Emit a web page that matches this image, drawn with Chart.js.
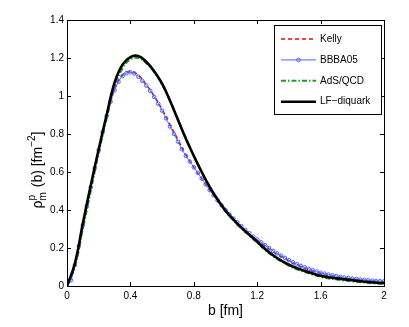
<!DOCTYPE html>
<html>
<head>
<meta charset="utf-8">
<script src="https://cdn.jsdelivr.net/npm/chart.js@4"></script>
<style>
  body { margin: 0; background: #fff; }
  canvas { display: block; }
</style>
</head>
<body>
<canvas id="myChart" width="409" height="327"></canvas>
<script>
// b [fm] 값 (두 가지 간격)
const bCoarse = [0, 0.05, 0.1, 0.15, 0.2, 0.25, 0.3, 0.35, 0.4, 0.45, 0.5, 0.55, 0.6, 0.65, 0.7, 0.75, 0.8, 0.85, 0.9, 0.95,
    1, 1.05, 1.1, 1.15, 1.2, 1.25, 1.3, 1.35, 1.4, 1.45, 1.5, 1.55, 1.6, 1.65, 1.7, 1.75, 1.8, 1.85, 1.9, 1.95, 2];
const bFine = [0, 0.025, 0.05, 0.075, 0.1, 0.125, 0.15, 0.175, 0.2, 0.225, 0.25, 0.275, 0.3, 0.325, 0.35, 0.375, 0.4, 0.425, 0.45, 0.475,
    0.5, 0.525, 0.55, 0.575, 0.6, 0.625, 0.65, 0.675, 0.7, 0.725, 0.75, 0.775, 0.8, 0.825, 0.85, 0.875, 0.9, 0.925, 0.95, 0.975,
    1, 1.025, 1.05, 1.075, 1.1, 1.125, 1.15, 1.175, 1.2, 1.225, 1.25, 1.275, 1.3, 1.325, 1.35, 1.375, 1.4, 1.425, 1.45, 1.475,
    1.5, 1.525, 1.55, 1.575, 1.6, 1.625, 1.65, 1.675, 1.7, 1.725, 1.75, 1.775, 1.8, 1.825, 1.85, 1.875, 1.9, 1.925, 1.95, 1.975, 2];

// 각 모델의 값
const kelly = [0, 0.11, 0.32, 0.52, 0.715, 0.895, 1.035, 1.11, 1.13, 1.11, 1.06, 1.0, 0.93, 0.85, 0.77, 0.69, 0.625, 0.565, 0.505, 0.45,
    0.4, 0.353, 0.312, 0.275, 0.24, 0.21, 0.18, 0.155, 0.13, 0.11, 0.093, 0.078, 0.066, 0.056, 0.048, 0.041, 0.035, 0.03, 0.026, 0.023, 0.02];
const bbba05 = [0, 0.03, 0.11, 0.21, 0.32, 0.42, 0.52, 0.62, 0.715, 0.81, 0.895, 0.97, 1.03, 1.075, 1.105, 1.12, 1.125, 1.118, 1.102, 1.08,
    1.055, 1.027, 0.995, 0.96, 0.923, 0.883, 0.84, 0.8, 0.76, 0.72, 0.685, 0.655, 0.625, 0.595, 0.565, 0.535, 0.505, 0.478, 0.45, 0.425,
    0.4, 0.377, 0.355, 0.335, 0.315, 0.295, 0.278, 0.26, 0.245, 0.23, 0.215, 0.2, 0.185, 0.172, 0.16, 0.148, 0.136, 0.125, 0.115, 0.106,
    0.098, 0.09, 0.083, 0.076, 0.07, 0.065, 0.06, 0.056, 0.052, 0.048, 0.045, 0.042, 0.039, 0.037, 0.034, 0.032, 0.03, 0.028, 0.027, 0.025, 0.024];
const adsqcd = [0, 0.1, 0.3, 0.5, 0.7, 0.88, 1.045, 1.145, 1.193, 1.2, 1.172, 1.125, 1.06, 0.975, 0.875, 0.78, 0.685, 0.6, 0.525, 0.455,
    0.393, 0.345, 0.302, 0.265, 0.228, 0.19, 0.157, 0.13, 0.107, 0.088, 0.073, 0.06, 0.048, 0.04, 0.034, 0.029, 0.024, 0.02, 0.016, 0.013, 0.01];
const lfDiquark = [0, 0.12, 0.33, 0.53, 0.72, 0.9, 1.07, 1.165, 1.205, 1.21, 1.18, 1.13, 1.065, 0.975, 0.875, 0.775, 0.685, 0.6, 0.522, 0.455,
    0.397, 0.35, 0.307, 0.27, 0.233, 0.195, 0.162, 0.135, 0.112, 0.094, 0.079, 0.066, 0.054, 0.046, 0.04, 0.035, 0.03, 0.025, 0.021, 0.017, 0.015];

// 눈금
const xTicks = [0, 0.4, 0.8, 1.2, 1.6, 2];
const yTicks = [0, 0.2, 0.4, 0.6, 0.8, 1, 1.2, 1.4];

const FONT = '"Liberation Sans", Arial, sans-serif';

function pts(xs, ys) {
    return xs.map((x, i) => ({ x: x, y: ys[i] }));
}

// 안쪽 눈금 + 상자 + 축 제목 + 범례
const decorPlugin = {
    id: 'decor',
    afterDraw(chart) {
        const { ctx, chartArea: a, scales } = chart;
        ctx.save();
        ctx.strokeStyle = '#000';
        ctx.lineWidth = 1;
        ctx.strokeRect(a.left + 0.5, a.top + 0.5, a.right - a.left, a.bottom - a.top);
        ctx.beginPath();
        xTicks.forEach(t => {
            const x = Math.round(scales.x.getPixelForValue(t)) + 0.5;
            ctx.moveTo(x, a.bottom); ctx.lineTo(x, a.bottom - 4);
            ctx.moveTo(x, a.top); ctx.lineTo(x, a.top + 4);
        });
        yTicks.forEach(t => {
            const y = Math.round(scales.y.getPixelForValue(t)) + 0.5;
            ctx.moveTo(a.left, y); ctx.lineTo(a.left + 4, y);
            ctx.moveTo(a.right, y); ctx.lineTo(a.right - 4, y);
        });
        ctx.stroke();

        // x 축 제목
        ctx.fillStyle = '#000';
        ctx.font = '14px ' + FONT;
        ctx.textAlign = 'center';
        ctx.textBaseline = 'alphabetic';
        ctx.fillText('b [fm]', (a.left + a.right) / 2, 315);

        // y 축 제목: ρ^p_m (b) [fm^-2]
        ctx.translate(42, 170);
        ctx.rotate(-Math.PI / 2);
        const big = '14px ' + FONT, small = '10px ' + FONT;
        ctx.font = big; const w1 = ctx.measureText('ρ').width;
        ctx.font = small; const wS = Math.max(ctx.measureText('p').width, ctx.measureText('m').width);
        ctx.font = big; const w2 = ctx.measureText(' (b) [fm').width;
        ctx.font = small; const w3 = ctx.measureText('−2').width;
        ctx.font = big; const w4 = ctx.measureText(']').width;
        let x = -(w1 + wS + 1 + w2 + w3 + w4) / 2;
        ctx.textAlign = 'left';
        ctx.font = big; ctx.fillText('ρ', x, 0); x += w1;
        ctx.font = small; ctx.fillText('p', x, -7); ctx.fillText('m', x, 4); x += wS + 1;
        ctx.font = big; ctx.fillText(' (b) [fm', x, 0); x += w2;
        ctx.font = small; ctx.fillText('−2', x, -7); x += w3;
        ctx.font = big; ctx.fillText(']', x, 0);
        ctx.setTransform(1, 0, 0, 1, 0, 0);

        // 범례
        const L = 274, T = 25, R = 381, B = 114;
        ctx.fillStyle = '#fff';
        ctx.fillRect(L, T, R - L, B - T);
        ctx.strokeStyle = '#000';
        ctx.strokeRect(L + 0.5, T + 0.5, R - L, B - T);
        chart.data.datasets.forEach((ds, i) => {
            const y = 39 + i * 20.9;
            ctx.save();
            ctx.strokeStyle = ds.borderColor;
            ctx.lineWidth = ds.borderWidth;
            ctx.setLineDash(ds.borderDash || []);
            ctx.beginPath();
            ctx.moveTo(281, y); ctx.lineTo(316, y);
            ctx.stroke();
            ctx.setLineDash([]);
            if (ds.pointRadius > 0) {
                ctx.beginPath();
                ctx.arc(298.5, y, ds.pointRadius, 0, Math.PI * 2);
                ctx.stroke();
            }
            ctx.restore();
            ctx.fillStyle = '#000';
            ctx.font = '10px ' + FONT;
            ctx.textAlign = 'left';
            ctx.textBaseline = 'middle';
            ctx.fillText(ds.label, 320, y);
        });
        ctx.restore();
    }
};

const ctx = document.getElementById('myChart').getContext('2d');
const chart = new Chart(ctx, {
    type: 'line',
    data: {
        datasets: [{
            label: 'Kelly',
            data: pts(bCoarse, kelly),
            borderColor: '#ff0000',
            borderWidth: 1.5,
            borderDash: [4, 3],
            pointRadius: 0,
            order: 2
        }, {
            label: 'BBBA05',
            data: pts(bFine, bbba05),
            borderColor: 'rgb(70,100,255)',
            borderWidth: 1,
            pointRadius: 1.8,
            pointBorderWidth: 1,
            pointBackgroundColor: 'rgba(255,255,255,0)',
            pointBorderColor: 'rgb(70,100,255)',
            order: 1
        }, {
            label: 'AdS/QCD',
            data: pts(bCoarse, adsqcd),
            borderColor: '#1e9e1e',
            borderWidth: 2,
            borderDash: [5, 2, 1.5, 2],
            pointRadius: 0,
            order: 3
        }, {
            label: 'LF−diquark',
            data: pts(bCoarse, lfDiquark),
            borderColor: '#000000',
            borderWidth: 2.6,
            pointRadius: 0,
            order: 0
        }]
    },
    options: {
        responsive: false,
        animation: false,
        layout: { padding: { left: 0, top: 20, right: 25, bottom: 0 } },
        plugins: { legend: { display: false }, tooltip: { enabled: false } },
        elements: { line: { tension: 0.4 } },
        scales: {
            x: {
                type: 'linear',
                min: 0, max: 2,
                afterFit: s => { s.height = 41; },
                afterBuildTicks: s => { s.ticks = xTicks.map(v => ({ value: v })); },
                grid: { display: false, drawTicks: false },
                border: { display: false },
                ticks: { color: '#000', padding: 4, font: { family: FONT, size: 10 }, maxRotation: 0,
                    callback: v => String(v) }
            },
            y: {
                min: 0, max: 1.4,
                afterFit: s => { s.width = 67; },
                afterBuildTicks: s => { s.ticks = yTicks.map(v => ({ value: v })); },
                grid: { display: false, drawTicks: false },
                border: { display: false },
                ticks: { color: '#000', padding: 3, font: { family: FONT, size: 10 },
                    callback: v => String(v) }
            }
        }
    },
    plugins: [decorPlugin]
});
</script>
</body>
</html>
